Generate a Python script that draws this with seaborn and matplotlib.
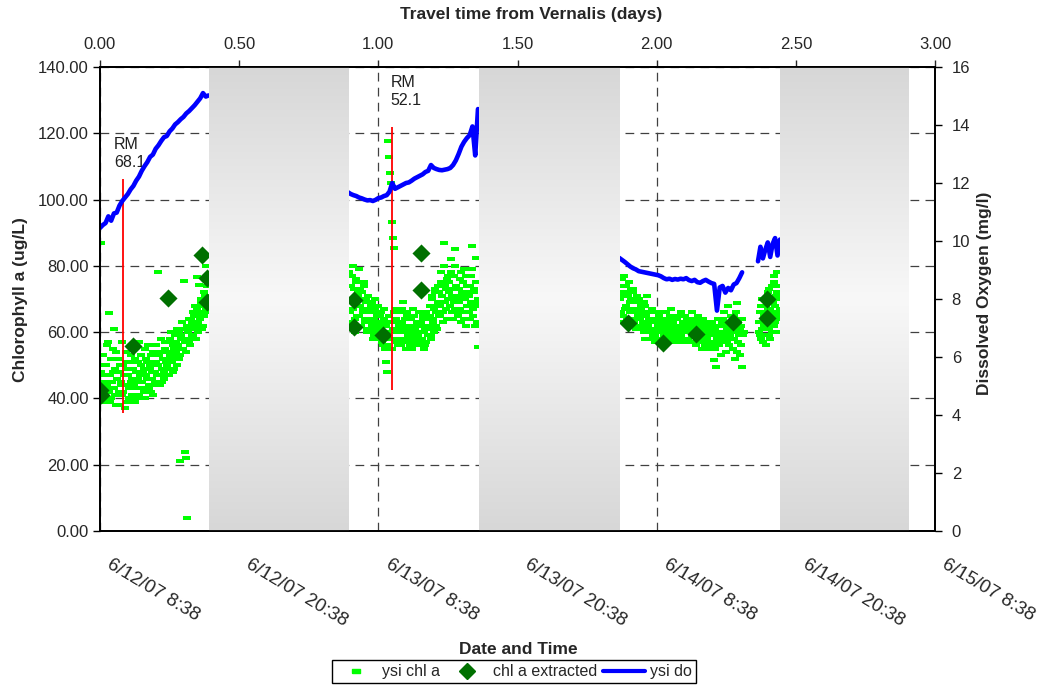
import numpy as np
import pandas as pd
import matplotlib
matplotlib.use("Agg")
import matplotlib.pyplot as plt
import seaborn as sns
from matplotlib.lines import Line2D
from matplotlib.transforms import ScaledTranslation

# ---------------- data ----------------
date_labels = ["6/12/07 8:38", "6/12/07 20:38", "6/13/07 8:38", "6/13/07 20:38",
               "6/14/07 8:38", "6/14/07 20:38", "6/15/07 8:38"]
travel_ticks = [0.0, 0.5, 1.0, 1.5, 2.0, 2.5, 3.0]
chl_ticks = [0, 20, 40, 60, 80, 100, 120, 140]
do_ticks = [0, 2, 4, 6, 8, 10, 12, 14, 16]

night_start = [0.392, 1.360, 2.443]
night_end = [0.894, 1.866, 2.903]

# ysi chl a (ug/L), sampled regularly within each daylight run (travel days)
chl_run_start = [0.000, 0.895, 1.868, 2.367]
chl_run_end = [0.388, 1.358, 2.310, 2.440]
chl_run1 = [44, 87, 42, 50, 40, 47, 56, 43, 65.7, 39,
            52, 45, 48, 61, 41, 54, 46, 38, 50, 44,
            57, 42, 47, 37, 51, 44, 49, 40, 53, 46,
            43, 55, 39, 48, 45, 51, 41, 47, 53, 43,
            49, 40, 52, 46, 56, 44, 50, 42, 48, 54,
            45, 51, 47, 78, 53, 44, 58, 49, 52, 46,
            55, 50, 57, 47, 53, 60, 51, 56, 49, 59,
            54, 61, 52, 21.2, 58, 63, 55, 75.4, 23.9, 21.9,
            3.8, 60, 57, 64, 59, 66, 61, 68, 58, 76.7,
            63, 74.2, 65, 70, 62, 72, 66, 80, 69, 75]
chl_run2 = [78, 66, 74, 61, 80, 70, 64, 76, 68, 72,
            65, 73, 62, 70, 67, 75, 63, 69, 61, 71,
            64, 60, 68, 62, 66, 59, 70, 63, 65, 61,
            62, 58, 66, 60, 56, 64, 55, 51, 48, 117.7,
            112.8, 108.1, 105.1, 93.3, 88.3, 85.3, 61, 67, 57, 63,
            60, 66, 56, 63, 69, 58, 62, 55, 65, 59,
            61, 57, 64, 55, 67, 59, 62, 56, 63, 58,
            60, 56, 63, 58, 65, 55, 61, 57, 64, 59,
            62, 68, 58, 71, 64, 60, 73, 66, 61, 69,
            72, 65, 78, 69, 63, 87, 74, 67, 76, 70,
            75, 68, 82, 71, 64, 77, 85, 70, 66, 73,
            69, 76, 63, 72, 66, 79, 70, 62, 74, 68,
            71, 64, 77, 86, 67, 73, 62, 82.5, 69, 55.5]
chl_run3 = [74, 66, 71, 63, 77, 68, 72, 62, 75, 69,
            70, 64, 73, 67, 61, 71, 65, 69, 62, 68,
            66, 60, 68, 62, 71, 58, 64, 61, 67, 59,
            63, 57, 66, 60, 58, 65, 61, 56, 64, 59,
            62, 66, 58, 64, 60, 67, 57, 63, 61, 65,
            59, 64, 62, 57, 66, 60, 63, 58, 65, 61,
            60, 64, 57, 62, 66, 59, 63, 56, 61, 65,
            58, 62, 60, 55, 64, 59, 61, 57, 63, 60,
            62, 56, 59, 51.6, 61, 49.6, 58, 64, 57, 60,
            63, 57, 66, 59, 54, 61, 68, 56, 62, 58,
            55, 65, 52, 60, 68.8, 57, 53, 62, 49.6, 59]
chl_run4 = [60, 66, 58, 63, 70, 57, 65, 61, 68, 56,
            64, 72, 59, 67, 62, 74, 60, 69, 77, 63,
            71, 66, 78, 64, 70]
# interleaved readings (half a sampling step later)
chl_run1b = [48, 41, 53, 45, 39, 50, 44, 57, 42, 47,
             40, 55, 43, 49, 38, 46, 52, 42, 48, 45,
             41, 50, 44, 54, 39, 47, 43, 51, 45, 41,
             49, 44, 52, 40, 46, 57, 43, 50, 45, 48,
             42, 55, 47, 51, 43, 49, 53, 46, 41, 51,
             48, 56, 44, 50, 47, 54, 45, 52, 48, 57,
             51, 47, 54, 49, 58, 52, 48, 55, 53, 57,
             50, 56, 60, 53, 59, 55, 61, 57, 54, 62,
             58, 64, 56, 61, 63, 59, 65, 62, 67, 60,
             66, 64, 69, 61, 68, 65, 71, 67, 74, 70]
chl_run2b = [70, 63, 77, 67, 73, 60, 75, 65, 71, 79,
             68, 62, 72, 66, 74, 64, 70, 60, 67, 63,
             66, 61, 69, 58, 64, 67, 60, 62, 68, 59,
             65, 61, 57, 63, 67, 59, 62, 56, 60, 65,
             58, 63, 55, 61, 66, 58, 64, 60, 56, 62,
             63, 58, 67, 61, 57, 64, 60, 66, 58, 62,
             56, 64, 60, 58, 65, 61, 57, 63, 59, 66,
             58, 62, 57, 64, 60, 56, 66, 62, 59, 61,
             65, 59, 70, 63, 67, 72, 62, 68, 74, 65,
             68, 75, 71, 66, 80, 69, 73, 64, 77, 72,
             70, 78, 66, 73, 69, 80, 67, 74, 71, 65,
             73, 67, 78, 70, 75, 64, 71, 77, 68, 72,
             66, 74, 69, 79, 65, 72, 68, 75, 63, 70]
chl_run3b = [70, 76, 65, 72, 67, 74, 64, 71, 66, 73,
             67, 72, 63, 69, 66, 62, 70, 64, 67, 61,
             63, 69, 58, 65, 62, 60, 66, 63, 58, 64,
             61, 59, 64, 62, 57, 63, 60, 66, 58, 62,
             60, 63, 59, 61, 65, 58, 62, 60, 64, 57,
             62, 58, 61, 65, 59, 63, 60, 57, 62, 64,
             58, 61, 63, 59, 57, 62, 60, 64, 58, 60,
             61, 57, 63, 59, 62, 56, 60, 58, 62, 55,
             59, 63, 57, 61, 55, 60, 62, 56, 59, 53,
             60, 64, 58, 62, 57, 60, 63, 59, 65, 61,
             62, 58, 66, 54, 63, 59, 61, 56, 64, 60]
chl_run4b = [63, 59, 68, 61, 57, 66, 62, 70, 59, 64,
             67, 61, 73, 58, 66, 70, 63, 75, 62, 68,
             65, 72, 60, 74, 67]

# chl a extracted (ug/L)
ext_days = [0.000, 0.004, 0.119, 0.244, 0.366, 0.383, 0.383,
            0.911, 0.911, 1.018, 1.152, 1.152,
            1.898, 2.022, 2.141, 2.273, 2.395, 2.395]
ext_chl = [42.5, 41.0, 55.8, 70.3, 83.3, 76.2, 69.2,
           69.7, 61.6, 59.1, 84.0, 72.7,
           62.7, 56.6, 59.3, 63.2, 70.0, 64.2]

# ysi do (mg/l)
do_run_start = [0.000, 0.891, 1.865, 2.364]
do_run_end = [0.390, 1.358, 2.307, 2.443]
do_run1 = [10.45, 10.55, 10.62, 10.85, 10.70, 10.95, 10.98, 11.22, 11.38, 11.50,
           11.62, 11.78, 11.90, 12.08, 12.22, 12.42, 12.58, 12.72, 12.90, 12.98,
           13.18, 13.30, 13.45, 13.58, 13.62, 13.78, 13.88, 14.02, 14.10, 14.20,
           14.28, 14.40, 14.48, 14.58, 14.68, 14.80, 14.92, 15.10, 14.98, 15.02]
do_run2 = [11.68, 11.62, 11.58, 11.55, 11.50, 11.47, 11.43, 11.40, 11.41, 11.38,
           11.42, 11.48, 11.50, 11.55, 11.58, 11.70, 12.00, 11.80, 11.85, 11.90,
           11.95, 12.00, 12.02, 12.08, 12.15, 12.20, 12.25, 12.30, 12.38, 12.42,
           12.62, 12.52, 12.48, 12.45, 12.44, 12.46, 12.48, 12.52, 12.62, 12.78,
           13.00, 13.25, 13.42, 13.55, 13.65, 13.95, 12.95, 14.55]
do_run3 = [9.42, 9.35, 9.28, 9.20, 9.12, 9.06, 9.02, 8.96, 8.94, 8.92,
           8.90, 8.88, 8.86, 8.84, 8.82, 8.78, 8.72, 8.68, 8.70, 8.66,
           8.69, 8.67, 8.70, 8.68, 8.72, 8.65, 8.62, 8.66, 8.58, 8.56,
           8.62, 8.66, 8.60, 8.55, 8.52, 7.60, 8.40, 8.45, 8.22, 8.38,
           8.30, 8.50, 8.55, 8.72, 8.92]
do_run4 = [9.3, 9.8, 9.4, 9.7, 9.95, 9.45, 9.9, 10.1, 9.5, 10.05]

# river-mile markers
rm_labels = ["RM\n68.1", "RM\n52.1"]
rm_days = [0.083, 1.049]
rm_low = [35.6, 42.5]
rm_high = [106.2, 122.0]
rm_text_days = [0.050, 1.044]
rm_text_chl = [118.8, 137.6]

# ---------------- build frames ----------------
frames = []
for runs, half in (([chl_run1, chl_run2, chl_run3, chl_run4], False),
                   ([chl_run1b, chl_run2b, chl_run3b, chl_run4b], True)):
    for s, e, v in zip(chl_run_start, chl_run_end, runs):
        t = np.linspace(s, e, len(v))
        if half:
            t = t + (e - s) / (len(v) - 1) / 2
        frames.append(pd.DataFrame({"t": t, "chl": v}))
chl_df = pd.concat(frames, ignore_index=True)

do_runs = [do_run1, do_run2, do_run3, do_run4]
do_df = pd.concat([
    pd.DataFrame({"t": np.linspace(s, e, len(v)), "do": v, "seg": i})
    for i, (s, e, v) in enumerate(zip(do_run_start, do_run_end, do_runs))], ignore_index=True)

ext_df = pd.DataFrame({"t": ext_days, "chl": ext_chl})

# ---------------- style ----------------
sns.set_style("white")
plt.rcParams["font.family"] = ["Liberation Sans", "DejaVu Sans"]

GREEN = "#00ff00"
DKGREEN = "#007000"
BLUE = "#0000ff"
dash_marker = [(-1, -0.5), (1, -0.5), (1, 0.5), (-1, 0.5), (-1, -0.5)]

fig = plt.figure(figsize=(10.46, 6.94), dpi=100)
ax = fig.add_axes([100 / 1046, 1 - 531 / 694, 835 / 1046, 464 / 694])
ax.set_facecolor("white")
ax2 = ax.twinx()

# grid
ax.grid(True, color="#404040", linestyle=(0, (7, 5)), linewidth=0.9)
ax.set_axisbelow(True)

# chl points
sns.scatterplot(data=chl_df, x="t", y="chl", marker=dash_marker, s=30,
                color=GREEN, linewidth=0, ax=ax, zorder=3, legend=False)
sns.scatterplot(data=ext_df, x="t", y="chl", marker="D", s=85,
                color=DKGREEN, linewidth=0, ax=ax, zorder=4, legend=False)

# RM markers
ax.vlines(rm_days, rm_low, rm_high, color="#ff0000", linewidth=1.3, zorder=5)
for lab, tx, ty in zip(rm_labels, rm_text_days, rm_text_chl):
    ax.text(tx, ty, lab, fontsize=11.5, ha="left", va="top", color="#202020",
            linespacing=1.25, zorder=6)

# DO line
sns.lineplot(data=do_df, x="t", y="do", units="seg", estimator=None, sort=False,
             color=BLUE, linewidth=3.3, ax=ax2, legend=False, zorder=3)

# night bands (vertical gradient)
u = np.linspace(0, 1, 256)
shade = (248 - 33 * np.abs(2 * u - 1)) / 255.0
grad = np.repeat(shade[:, None, None], 3, axis=2)
for s, e in zip(night_start, night_end):
    ax2.imshow(grad, extent=(s, e, 0, 16), aspect="auto", origin="upper",
               interpolation="bilinear", zorder=10)

# axes limits / ticks
ax.set_xlim(0, 3)
ax2.set_xlim(0, 3)
ax.set_ylim(0, 140)
ax2.set_ylim(0, 16)

ax.tick_params(axis="x", direction="out", length=5, width=1, pad=13, color="black")
ax.tick_params(axis="y", direction="out", length=5, width=1, pad=3, color="black")
ax2.tick_params(axis="y", direction="out", length=5, width=1, pad=7, color="black")

ax.set_xticks(travel_ticks)
ax.set_xticklabels(date_labels, rotation=-31, ha="left", va="top",
                   rotation_mode="anchor", fontsize=13.5)
shift = ScaledTranslation(13 / 100, 0, fig.dpi_scale_trans)
for lbl in ax.get_xticklabels():
    lbl.set_transform(lbl.get_transform() + shift)
ax.set_yticks(chl_ticks)
ax.set_yticklabels([f"{v:.2f}" for v in chl_ticks], fontsize=12)
ax2.set_yticks(do_ticks)
ax2.set_yticklabels([str(v) for v in do_ticks], fontsize=12)

secax = ax.secondary_xaxis("top")
secax.set_xticks(travel_ticks)
secax.tick_params(direction="out", length=5, width=1, pad=6)
secax.set_xticklabels([f"{v:.2f}" for v in travel_ticks], fontsize=12)

for a in (ax, ax2):
    for sp in a.spines.values():
        sp.set_color("black")
        sp.set_linewidth(1.3)
        sp.set_zorder(20)
for sp in secax.spines.values():
    sp.set_linewidth(1.3)

# axis titles
ax.set_xlabel("Date and Time", fontsize=12.5, fontweight="bold", va="center")
ax.xaxis.set_label_coords(0.5006, (531 - 650) / 464)
ax.set_ylabel("Chlorophyll a (ug/L)", fontsize=12.5, fontweight="bold")
ax.yaxis.set_label_coords((28 - 100) / 835, 0.498)
ax2.set_ylabel("Dissolved Oxygen (mg/l)", fontsize=12.5, fontweight="bold")
ax2.yaxis.set_label_coords((977 - 100) / 835, 0.513)
secax.set_xlabel("Travel time from Vernalis (days)", fontsize=12.5,
                 fontweight="bold", va="center")
secax.xaxis.set_label_coords(0.516, (531 - 15) / 464, transform=ax.transAxes)

# legend
h1 = Line2D([], [], marker=dash_marker, markersize=6, color=GREEN, linestyle="none")
h2 = Line2D([], [], marker="D", markersize=8, color=DKGREEN, linestyle="none")
h3 = Line2D([], [], color=BLUE, linewidth=3)
leg = fig.legend([h1, h2, h3], ["ysi chl a", "chl a extracted", "ysi do"],
                 loc="lower center", bbox_to_anchor=(0.491, 0.004), ncol=3,
                 frameon=True, fancybox=False, edgecolor="black", framealpha=1,
                 fontsize=11.5, handlelength=2.6, handletextpad=0.3,
                 columnspacing=0.4, borderpad=0.25)
leg.get_frame().set_linewidth(1.0)

fig.savefig("out.png", dpi=100, facecolor="white")
